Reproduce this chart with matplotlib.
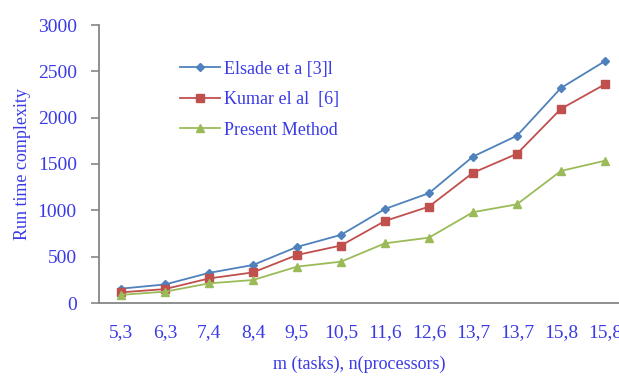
import matplotlib.pyplot as plt

categories = ["5,3", "6,3", "7,4", "8,4", "9,5", "10,5", "11,6", "12,6",
              "13,7", "13,7", "15,8", "15,8"]
elsade = [155, 200, 325, 410, 605, 735, 1015, 1185, 1580, 1805, 2320, 2610]
kumar = [115, 150, 265, 330, 518, 620, 885, 1040, 1405, 1610, 2095, 2360]
present = [88, 122, 212, 248, 392, 446, 644, 705, 980, 1065, 1425, 1535]
yticks = [0, 500, 1000, 1500, 2000, 2500, 3000]

text_color = "#3a3ae6"
axis_color = "#868686"

plt.rcParams["font.family"] = ["Liberation Serif", "DejaVu Serif"]

fig = plt.figure(figsize=(6.19, 3.76), dpi=100)
ax = fig.add_axes([99 / 619, 73 / 376, 520 / 619, 278 / 376])

x = list(range(len(categories)))
ax.plot(x, elsade, color="#4F81BD", marker="D", markersize=4.5, linewidth=1.3,
        label="Elsade et a [3]l")
ax.plot(x, kumar, color="#C0504D", marker="s", markersize=6, linewidth=1.3,
        label="Kumar el al  [6]")
ax.plot(x, present, color="#9BBB59", marker="^", markersize=6, linewidth=1.3,
        label="Present Method")

ax.set_xlim(-0.5, 11.32)
ax.set_ylim(0, 3000)
ax.set_xticks(x)
ax.set_xticklabels(categories)
ax.set_yticks(yticks)

for side in ("top", "right"):
    ax.spines[side].set_visible(False)
for side in ("left", "bottom"):
    ax.spines[side].set_color(axis_color)
    ax.spines[side].set_linewidth(1.3)

ax.tick_params(axis="y", direction="out", length=6, width=1.2, color=axis_color,
               labelsize=14, labelcolor=text_color, pad=10)
ax.tick_params(axis="x", length=0, labelsize=14, labelcolor=text_color, pad=15)

ax.set_ylabel("Run time complexity", fontsize=13, color=text_color, labelpad=5)
ax.set_xlabel("m (tasks), n(processors)", fontsize=13, color=text_color, labelpad=11)

ax.legend(loc="upper left", bbox_to_anchor=(0.125, 0.93), frameon=False,
          fontsize=13, labelcolor=text_color, handlelength=2.2,
          handletextpad=0.25, labelspacing=0.75)

fig.savefig("out.png", dpi=100)
